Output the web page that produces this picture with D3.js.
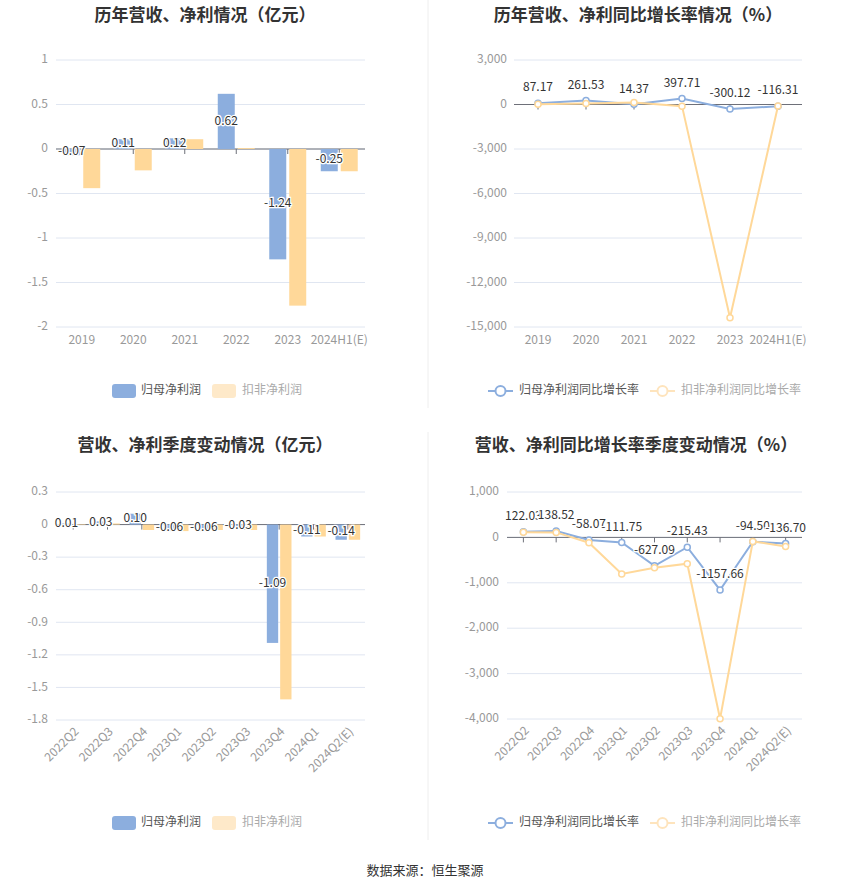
<!DOCTYPE html>
<html>
<head>
<meta charset="utf-8">
<script src="https://cdn.jsdelivr.net/npm/d3@7"></script>
<style>
body { margin: 0; background: #fff; }
svg text { font-family: "Noto Sans CJK SC", "Noto Sans", sans-serif; }
</style>
</head>
<body>
<div id="canvas"></div>
<script>
var W = 850, H = 891;
var BLUE = '#8caede', ORANGE = '#ffd899';

var yearCats = ['2019', '2020', '2021', '2022', '2023', '2024H1(E)'];
var yearNet = [-0.07, 0.11, 0.12, 0.62, -1.24, -0.25];
var yearNetDeducted = [-0.44, -0.24, 0.11, 0.01, -1.76, -0.25];
var yearNetGrowth = [87.17, 261.53, 14.37, 397.71, -300.12, -116.31];
var yearDeductedGrowth = [20, 60, 135, -110, -14380, -105];
var yearBarTicks = [1, 0.5, 0, -0.5, -1, -1.5, -2];
var yearLineTicks = [3000, 0, -3000, -6000, -9000, -12000, -15000];

var quarterCats = ['2022Q2', '2022Q3', '2022Q4', '2023Q1', '2023Q2', '2023Q3', '2023Q4', '2024Q1', '2024Q2(E)'];
var quarterNet = [0.01, 0.03, 0.10, -0.06, -0.06, -0.03, -1.09, -0.11, -0.14];
var quarterNetDeducted = [0.005, 0.01, -0.05, -0.06, -0.05, -0.05, -1.61, -0.11, -0.14];
var quarterNetGrowth = [122.03, 138.52, -58.07, -111.75, -627.09, -215.43, -1157.66, -94.50, -136.70];
var quarterDeductedGrowth = [115, 110, -117, -806, -667, -579, -3995, -88, -198];
var quarterBarTicks = [0.3, 0, -0.3, -0.6, -0.9, -1.2, -1.5, -1.8];
var quarterLineTicks = [1000, 0, -1000, -2000, -3000, -4000];

var barLegend = ['归母净利润', '扣非净利润'];
var lineLegend = ['归母净利润同比增长率', '扣非净利润同比增长率'];

var locale = d3.formatLocale({decimal: '.', thousands: ',', grouping: [3], currency: ['', ''], minus: '-'});
var fmtComma = locale.format(',');
var fmtPlain = function(v) { return String(v).replace('−', '-'); };

var svg = d3.select('#canvas').append('svg').attr('width', W).attr('height', H);

// dividers
svg.append('line').attr('x1', 428).attr('x2', 428).attr('y1', 0).attr('y2', 408)
    .attr('stroke', '#eeeeee');
svg.append('line').attr('x1', 428).attr('x2', 428).attr('y1', 432).attr('y2', 840)
    .attr('stroke', '#eeeeee');

function title(x, y, txt) {
    svg.append('text').attr('x', x).attr('y', y).attr('text-anchor', 'middle')
        .attr('fill', '#333').style('font-size', '17px').style('font-weight', 'bold')
        .text(txt);
}

function haloText(g, x, y, txt) {
    g.append('text').attr('x', x).attr('y', y).attr('text-anchor', 'middle')
        .attr('dominant-baseline', 'middle')
        .attr('fill', '#333').attr('stroke', '#fff').attr('stroke-width', 2.5)
        .attr('paint-order', 'stroke').style('font-size', '12px')
        .text(txt);
}

function frame(opt) {
    var g = svg.append('g');
    var x = d3.scaleBand().domain(opt.cats).range([opt.x0, opt.x1]);
    var y = d3.scaleLinear().domain(opt.domain).range([opt.y1, opt.y0]);
    g.selectAll('.grid').data(opt.ticks).enter().append('line')
        .attr('x1', opt.x0).attr('x2', opt.x1)
        .attr('y1', function(d) { return y(d); }).attr('y2', function(d) { return y(d); })
        .attr('stroke', '#e0e6f1');
    g.selectAll('.ylab').data(opt.ticks).enter().append('text')
        .attr('x', opt.labX).attr('y', function(d) { return y(d); })
        .attr('text-anchor', 'end').attr('dominant-baseline', 'middle')
        .attr('fill', '#999').style('font-size', '12px')
        .text(opt.fmt);
    var y0 = y(0);
    g.append('line').attr('x1', opt.x0).attr('x2', opt.x1).attr('y1', y0).attr('y2', y0)
        .attr('stroke', '#6e7079');
    g.selectAll('.tick').data(opt.cats).enter().append('line')
        .attr('x1', function(d) { return x(d) + x.bandwidth() / 2; })
        .attr('x2', function(d) { return x(d) + x.bandwidth() / 2; })
        .attr('y1', y0).attr('y2', y0 + 5).attr('stroke', '#6e7079');
    if (opt.rotate) {
        g.selectAll('.xlab').data(opt.cats).enter().append('text')
            .attr('transform', function(d) {
                return 'translate(' + (x(d) + x.bandwidth() / 2 + 4) + ',' + (opt.y1 + 10) + ') rotate(-45)';
            })
            .attr('text-anchor', 'end').attr('dominant-baseline', 'middle')
            .attr('fill', '#999').style('font-size', '12px')
            .text(function(d) { return d; });
    } else {
        g.selectAll('.xlab').data(opt.cats).enter().append('text')
            .attr('x', function(d) { return x(d) + x.bandwidth() / 2; })
            .attr('y', opt.y1 + 17)
            .attr('text-anchor', 'middle')
            .attr('fill', '#999').style('font-size', '12px')
            .text(function(d) { return d; });
    }
    return {g: g, x: x, y: y};
}

function barChart(opt, a, b) {
    var f = frame(opt);
    var bw = f.x.bandwidth();
    var w = bw * 0.33, gap = bw * 0.058;
    var x1 = d3.scaleBand().domain([0, 1]).range([0, 2 * w + gap]).paddingInner(gap / (w + gap));
    var off = bw / 2 - w - gap / 2;
    [a, b].forEach(function(vals, k) {
        f.g.selectAll('.bar' + k).data(vals).enter().append('rect')
            .attr('x', function(d, i) { return f.x(opt.cats[i]) + off + x1(k); })
            .attr('width', x1.bandwidth())
            .attr('y', function(d) { return Math.min(f.y(d), f.y(0)); })
            .attr('height', function(d) { return Math.abs(f.y(d) - f.y(0)); })
            .attr('fill', k == 0 ? BLUE : ORANGE);
    });
    a.forEach(function(d, i) {
        haloText(f.g, f.x(opt.cats[i]) + off + x1(0) + x1.bandwidth() / 2,
            (f.y(d) + f.y(0)) / 2, d.toFixed(2));
    });
}

function lineChart(opt, a, b) {
    var f = frame(opt);
    var cx = function(i) { return f.x(opt.cats[i]) + f.x.bandwidth() / 2; };
    var line = d3.line().x(function(d, i) { return cx(i); }).y(function(d) { return f.y(d); });
    [a, b].forEach(function(vals, k) {
        var col = k == 0 ? BLUE : ORANGE;
        f.g.append('path').attr('d', line(vals)).attr('fill', 'none')
            .attr('stroke', col).attr('stroke-width', 2);
        f.g.selectAll('.pt' + k).data(vals).enter().append('circle')
            .attr('cx', function(d, i) { return cx(i); })
            .attr('cy', function(d) { return f.y(d); })
            .attr('r', 3).attr('fill', '#fff').attr('stroke', col).attr('stroke-width', 1.5);
    });
    a.forEach(function(d, i) {
        haloText(f.g, cx(i), f.y(d) - 15, d.toFixed(2));
    });
}

function barLegendAt(y) {
    svg.append('rect').attr('x', 112).attr('y', y - 7).attr('width', 24).attr('height', 14)
        .attr('rx', 3).attr('fill', BLUE);
    svg.append('text').attr('x', 141).attr('y', y).attr('dominant-baseline', 'middle')
        .attr('fill', '#555').style('font-size', '12px').text(barLegend[0]);
    svg.append('rect').attr('x', 212).attr('y', y - 7).attr('width', 24).attr('height', 14)
        .attr('rx', 3).attr('fill', '#fee9c9');
    svg.append('text').attr('x', 242).attr('y', y).attr('dominant-baseline', 'middle')
        .attr('fill', '#aaa').style('font-size', '12px').text(barLegend[1]);
}

function lineLegendAt(y) {
    [[488, BLUE, '#555'], [650, '#fee4bd', '#aaa']].forEach(function(s, k) {
        svg.append('line').attr('x1', s[0]).attr('x2', s[0] + 25).attr('y1', y).attr('y2', y)
            .attr('stroke', s[1]).attr('stroke-width', 2);
        svg.append('circle').attr('cx', s[0] + 12.5).attr('cy', y).attr('r', 5)
            .attr('fill', '#fff').attr('stroke', s[1]).attr('stroke-width', 2);
        svg.append('text').attr('x', s[0] + 31).attr('y', y).attr('dominant-baseline', 'middle')
            .attr('fill', s[2]).style('font-size', '12px').text(lineLegend[k]);
    });
}

title(205, 21, '历年营收、净利情况（亿元）');
title(638, 21, '历年营收、净利同比增长率情况（%）');
title(205, 451, '营收、净利季度变动情况（亿元）');
title(636, 451, '营收、净利同比增长率季度变动情况（%）');

barChart({cats: yearCats, x0: 56, x1: 365, y0: 60, y1: 327, domain: [-2, 1],
    ticks: yearBarTicks, labX: 48, fmt: fmtPlain}, yearNet, yearNetDeducted);
lineChart({cats: yearCats, x0: 514, x1: 802, y0: 60, y1: 327, domain: [-15000, 3000],
    ticks: yearLineTicks, labX: 507, fmt: fmtComma}, yearNetGrowth, yearDeductedGrowth);
barChart({cats: quarterCats, x0: 56, x1: 365, y0: 492, y1: 720, domain: [-1.8, 0.3],
    ticks: quarterBarTicks, labX: 48, fmt: fmtPlain, rotate: true}, quarterNet, quarterNetDeducted);
lineChart({cats: quarterCats, x0: 507, x1: 802, y0: 492, y1: 719, domain: [-4000, 1000],
    ticks: quarterLineTicks, labX: 499, fmt: fmtComma, rotate: true}, quarterNetGrowth, quarterDeductedGrowth);

barLegendAt(391);
lineLegendAt(391);
barLegendAt(823);
lineLegendAt(823);

svg.append('text').attr('x', 425).attr('y', 871).attr('text-anchor', 'middle')
    .attr('dominant-baseline', 'middle').attr('fill', '#333').style('font-size', '13px')
    .text('数据来源：恒生聚源');
</script>
</body>
</html>
